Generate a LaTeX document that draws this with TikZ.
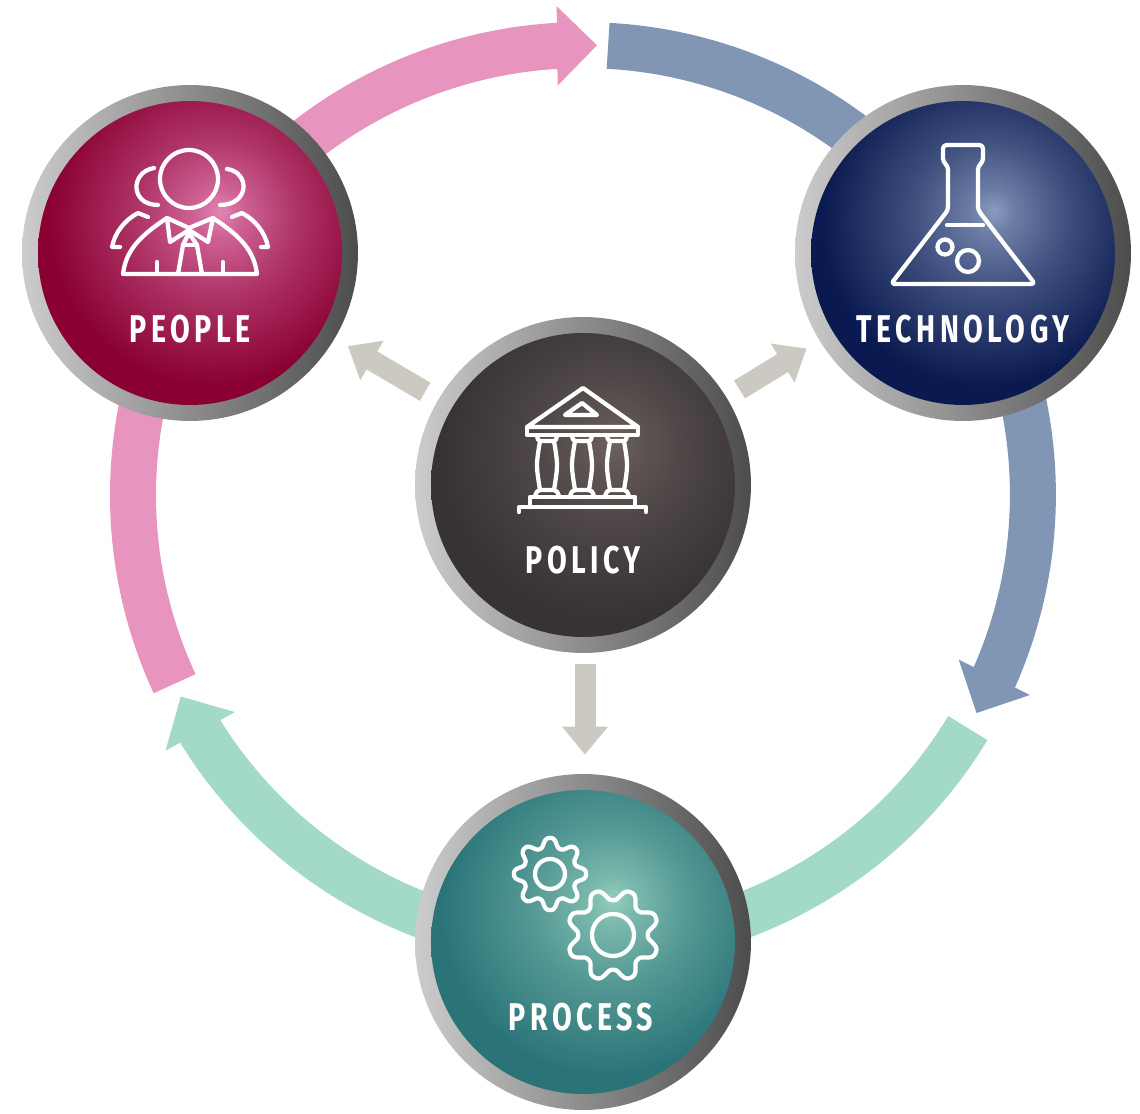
\documentclass[tikz,border=0pt]{standalone}
\usepackage{fontspec}
\usepackage{xcolor}
\usetikzlibrary{
    arrows.meta,
    bending,
    calc
}
\newfontfamily\capfont[FakeStretch=0.74,LetterSpace=11.5]{Fira Sans}
\definecolor{pinkband}{HTML}{E794BF}
\definecolor{blueband}{HTML}{8096B4}
\definecolor{greenband}{HTML}{A2D9C7}
\definecolor{greyband}{HTML}{CCC9C3}
\definecolor{peoplespot}{HTML}{E583B5}
\definecolor{peoplebase}{HTML}{8A0033}
\definecolor{techspot}{HTML}{8A9BBF}
\definecolor{techbase}{HTML}{0A1A50}
\definecolor{policyspot}{HTML}{6E625E}
\definecolor{policybase}{HTML}{373236}
\definecolor{processspot}{HTML}{94CFBE}
\definecolor{processbase}{HTML}{2A7478}
\newcommand{\spotshading}[3]{\pgfdeclareradialshading{#1}{\pgfpoint{5bp}{7bp}}{color(0bp)=(#2); color(4bp)=(#2!75!#3); color(13bp)=(#2!40!#3); color(27bp)=(#3); color(100bp)=(#3)}}
\spotshading{peopleshade}{peoplespot}{peoplebase}
\spotshading{techshade}{techspot}{techbase}
\spotshading{policyshade}{policyspot}{policybase}
\spotshading{processshade}{processspot}{processbase}
\tikzset{
    ring/.style={circle, minimum size=6.72cm, inner sep=0pt, left color=gray!40, middle color=gray!75, right color=black!70},
    core/.style={circle, minimum size=6.08cm, inner sep=0pt, shade, shading=#1},
    caption/.style={text=white, font=\capfont\bfseries\fontsize{22}{24}\selectfont, inner sep=0pt},
    band/.style={line width=.92cm, draw=#1, -{Triangle[width=1.54cm,length=.8cm,flex]}},
    inward/.style={line width=.42cm, draw=greyband, -{Triangle[width=.88cm,length=.56cm]}},
    icon/.style={draw=white, line width=.085cm, line join=round, line cap=round},
    imagepx/.style={shift={(0,1113)}, yscale=-1}
}
\begin{document}
\begin{tikzpicture}[x=0.02cm, y=0.02cm]
    \useasboundingbox (0, 0) rectangle (1140, 1113);
    \coordinate (rc) at (583, 618);

    \draw[band=pinkband] ([shift={(204.8:9cm)}]rc) arc[start angle=204.8, end angle=88.2, radius=9cm];
    \draw[band=blueband] ([shift={(86.8:9cm)}]rc) arc[start angle=86.8, end angle=-29, radius=9cm];
    \draw[band=greenband] ([shift={(-31.2:9cm)}]rc) arc[start angle=-31.2, end angle=-153.4, radius=9cm];

    \node[ring] (people) at (190, 860) {};
    \node[ring] (technology) at (963, 860) {};
    \node[ring] (policy) at (583, 628) {};
    \node[ring] (process) at (583, 171) {};

    \node[core=peopleshade] (peoplecore) at (people) {};
    \node[core=techshade] (technologycore) at (technology) {};
    \node[core=policyshade] (policycore) at (policy) {};
    \node[core=processshade] (processcore) at (process) {};

    \node[caption] (peoplelabel) at (190, 784) {PEOPLE};
    \node[caption] (technologylabel) at (963, 784) {TECHNOLOGY};
    \node[caption] (policylabel) at (583, 553) {POLICY};
    \node[caption] (processlabel) at (581, 96) {PROCESS};

    \draw[inward, shorten <=.3cm, shorten >=.3cm] (policy) -- (people);
    \draw[inward, shorten <=.3cm, shorten >=.3cm] (policy) -- (technology);
    \draw[inward, shorten <=.22cm, shorten >=.38cm, transform canvas={xshift=.04cm}] (policy) -- (process);

    \begin{scope}[imagepx]
        \draw[icon] (189, 179) circle (29);
        \draw[icon] (154, 168) .. controls (130, 172) and (130, 205) .. (158, 205);
        \draw[icon] (227, 169) .. controls (250, 172) and (250, 205) .. (220, 205);
        \draw[icon] (148, 217) -- (138, 213) .. controls (125, 220) and (115, 232) .. (112, 247) -- (120, 247);
        \draw[icon] (232, 217) -- (242, 213) .. controls (255, 220) and (265, 232) .. (268, 247) -- (261, 247);
        \draw[icon] (123, 274) -- (257, 274) .. controls (254, 250) and (240, 236) .. (213, 218) -- (208, 242) -- (189, 230) -- (170, 242) -- (167, 218) .. controls (140, 236) and (126, 250) .. (123, 274) -- cycle;
        \draw[icon] (167, 218) -- (189, 228) -- (213, 218);
        \draw[icon] (178, 274) -- (183, 245) -- (189, 233) -- (197, 245) -- (202, 274);
        \draw[icon] (183, 245) -- (197, 245);
        \draw[icon] (157, 262) -- (157, 274);
        \draw[icon] (223, 262) -- (223, 274);

        \draw[icon, rounded corners=.07cm] (948, 210) -- (948, 166) -- (943, 162) -- (943, 145) -- (983, 145) -- (983, 162) -- (978, 166) -- (978, 210) -- (1035, 284) -- (891, 284) -- cycle;
        \draw[icon] (947, 225) -- (983, 225);
        \draw[icon] (945, 247) circle (7.5);
        \draw[icon] (968, 261) circle (11);

        \draw[icon] (583, 388) -- (638, 427) -- (527, 427) -- cycle;
        \draw[icon] (582, 403) -- (597, 415) -- (565, 415) -- cycle;
        \draw[icon] (527, 427) rectangle (638, 435);
        \foreach \cx in {547, 582, 617} {
            \draw[icon] (\cx-10, 436) .. controls (\cx-9, 440) .. (\cx-7, 441) -- (\cx+7, 441) .. controls (\cx+9, 440) .. (\cx+10, 436);
            \draw[icon] (\cx-7, 441) .. controls (\cx-11, 465) .. (\cx-7, 490);
            \draw[icon] (\cx+7, 441) .. controls (\cx+11, 465) .. (\cx+7, 490);
            \draw[icon] (\cx-12, 496) .. controls (\cx-10, 491) .. (\cx-7, 490) -- (\cx+7, 490) .. controls (\cx+10, 491) .. (\cx+12, 496);
        }
        \draw[icon] (530, 507) -- (530, 497) -- (635, 497) -- (635, 507);
        \draw[icon] (519, 512) -- (519, 507) -- (646, 507) -- (646, 512);

        \draw[icon] (550, 874) circle (15);
        \draw[icon, shift={(550, 874)}] plot[domain=0:360, samples=241] (\x:{31.5+5*(cos(8*\x)-0.08*cos(24*\x))}) -- cycle;
        \draw[icon] (613, 935) circle (21);
        \draw[icon, shift={(613, 935)}] plot[domain=0:360, samples=241] (\x:{40.5+6.2*(cos(8*\x-180)-0.08*cos(24*\x-540))}) -- cycle;
    \end{scope}
\end{tikzpicture}
\end{document}
